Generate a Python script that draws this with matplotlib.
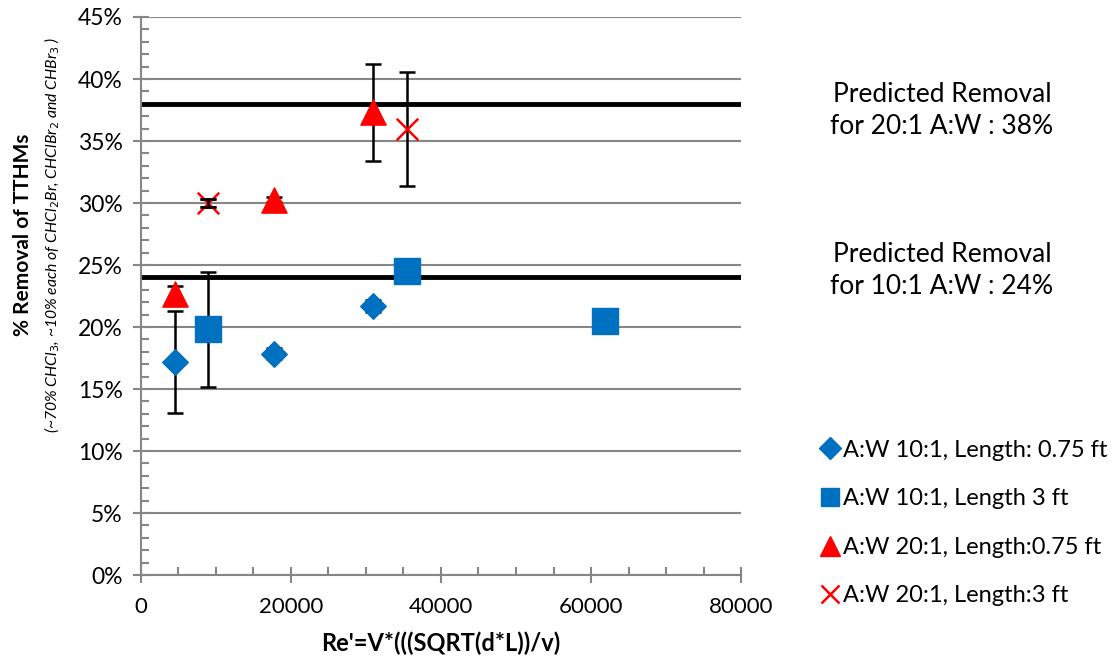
import matplotlib.pyplot as plt
from matplotlib.lines import Line2D

plt.rcParams['font.family'] = ['Lato', 'DejaVu Sans']

# Re' values and % removal for each configuration
re_10_075 = [4500, 17700, 31000]
rm_10_075 = [17.2, 17.85, 21.7]
err_10_075 = [4.1, 0.45, 0.5]

re_10_3 = [8900, 35500, 61900]
rm_10_3 = [19.8, 24.5, 20.45]
err_10_3 = [4.6, 0.0, 0.0]

re_20_075 = [4500, 17700, 31000]
rm_20_075 = [22.7, 30.25, 37.3]
err_20_075 = [0.6, 0.2, 3.9]

re_20_3 = [8900, 35500]
rm_20_3 = [30.0, 35.95]
err_20_3 = [0.3, 4.6]

predicted_20 = 38
predicted_10 = 24

blue = '#0070C0'
red = '#FF0000'
grey = '#868686'

fig = plt.figure(figsize=(11.16, 6.64), dpi=100)
ax = fig.add_axes([0.1263, 0.134, 0.5377, 0.8404])

ax.set_xlim(0, 80000)
ax.set_ylim(0, 45)
for v in range(0, 46, 5):
    ax.axhline(v, color=grey, lw=1.5, zorder=1)

ax.axhline(predicted_20, color='black', lw=3.5, zorder=2)
ax.axhline(predicted_10, color='black', lw=3.5, zorder=2)

eb = dict(fmt='none', ecolor='black', elinewidth=1.8, capsize=6, capthick=1.8, zorder=3)
ax.errorbar(re_10_075, rm_10_075, yerr=err_10_075, **eb)
ax.errorbar(re_10_3, rm_10_3, yerr=err_10_3, **eb)
ax.errorbar(re_20_075, rm_20_075, yerr=err_20_075, **eb)
ax.errorbar(re_20_3, rm_20_3, yerr=err_20_3, **eb)

ax.scatter(re_10_075, rm_10_075, marker='D', s=170, color=blue, zorder=4)
ax.scatter(re_10_3, rm_10_3, marker='s', s=330, color=blue, zorder=4)
ax.scatter(re_20_075, rm_20_075, marker='^', s=330, color=red, zorder=4)
ax.scatter(re_20_3, rm_20_3, marker='x', s=240, color=red, linewidths=1.8, zorder=4)
ax.errorbar(re_20_3[:1], rm_20_3[:1], yerr=err_20_3[:1], **dict(eb, zorder=5))

# axes styling
for s in ['top', 'right']:
    ax.spines[s].set_visible(False)
for s in ['left', 'bottom']:
    ax.spines[s].set_color(grey)
    ax.spines[s].set_linewidth(1.5)
ax.set_xticks(range(0, 80001, 20000))
ax.set_xticks(range(0, 80001, 5000), minor=True)
ax.set_yticks(range(0, 46, 5))
ax.set_yticks(range(0, 46, 1), minor=True)
ax.set_yticklabels([f'{v}%' for v in range(0, 46, 5)])
ax.tick_params(which='major', direction='inout', length=12, width=1.5, color=grey, labelsize=16.5, pad=7)
ax.tick_params(which='minor', direction='in', length=6, width=1.5, color=grey)
ax.tick_params(axis='x', which='major', labelsize=16, pad=10)

ax.set_xlabel("Re'=V*(((SQRT(d*L))/v)", fontsize=17, fontweight='bold', labelpad=10)
fig.text(0.021, 0.647, '% Removal of TTHMs', rotation=90, ha='center', va='center',
         fontsize=15, fontweight='bold')
fig.text(0.047, 0.647, r'(~70% CHCl$_3$, ~10% each of CHCl$_2$Br, CHClBr$_2$ and CHBr$_3$ )',
         rotation=90, ha='center', va='center', fontsize=11.3, style='italic')

fig.text(0.844, 0.833, 'Predicted Removal\nfor 20:1 A:W : 38%', ha='center', va='center',
         fontsize=19, linespacing=1.35)
fig.text(0.844, 0.592, 'Predicted Removal\nfor 10:1 A:W : 24%', ha='center', va='center',
         fontsize=19, linespacing=1.35)

handles = [
    Line2D([], [], ls='none', marker='D', ms=11, color=blue),
    Line2D([], [], ls='none', marker='s', ms=13, color=blue),
    Line2D([], [], ls='none', marker='^', ms=14, color=red),
    Line2D([], [], ls='none', marker='x', ms=13, mew=1.8, color=red),
]
labels = ['A:W 10:1, Length: 0.75 ft', 'A:W 10:1, Length 3 ft',
          'A:W 20:1, Length:0.75 ft', 'A:W 20:1, Length:3 ft']
fig.legend(handles, labels, loc='upper left', bbox_to_anchor=(0.716, 0.37), frameon=False,
           fontsize=17, handlelength=0.8, handletextpad=0.15, labelspacing=1.17)

fig.savefig('out.png', dpi=100)
